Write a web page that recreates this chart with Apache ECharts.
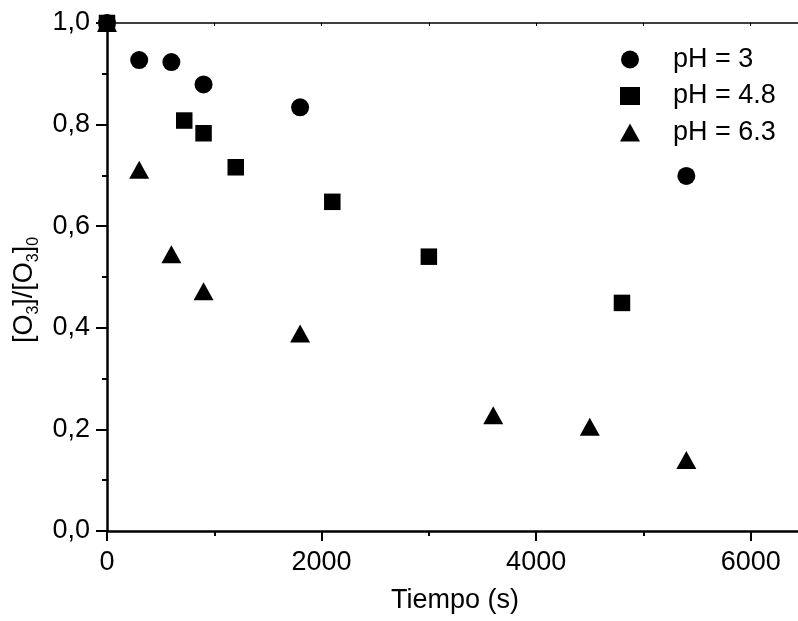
<!DOCTYPE html>
<html>
<head>
<meta charset="utf-8">
<script src="https://cdn.jsdelivr.net/npm/echarts@6/dist/echarts.min.js"></script>
<style>
html,body{margin:0;padding:0;background:#fff;}
#chart{width:798px;height:621px;}
</style>
</head>
<body>
<div id="chart"></div>
<script>
// Data
var seriesNames = ['pH = 3', 'pH = 4.8', 'pH = 6.3'];
var timePH3 = [0, 300, 600, 900, 1800, 5400];
var ratioPH3 = [1.0, 0.927, 0.923, 0.879, 0.834, 0.699];
var timePH48 = [0, 720, 900, 1200, 2100, 3000, 4800];
var ratioPH48 = [1.0, 0.808, 0.783, 0.716, 0.648, 0.540, 0.449];
var timePH63 = [0, 300, 600, 900, 1800, 3600, 4500, 5400];
var ratioPH63 = [1.0, 0.711, 0.545, 0.472, 0.389, 0.228, 0.205, 0.140];
var xTickLabels = ['0', '2000', '4000', '6000'];
var yTickLabels = ['0,0', '0,2', '0,4', '0,6', '0,8', '1,0'];

function pairs(xs, ys) { return xs.map(function (x, i) { return [x, ys[i]]; }); }

var FONT = '"Liberation Sans", Arial, sans-serif';
var FS = 27;
var chart = echarts.init(document.getElementById('chart'));
chart.setOption({
  animation: false,
  backgroundColor: '#fff',
  textStyle: { fontFamily: FONT, color: '#000' },
  grid: { left: 107, top: 23, bottom: 90, width: 751, containLabel: false, outerBoundsMode: 'none' },
  legend: {
    orient: 'vertical', left: 620, top: 46, padding: 0,
    itemWidth: 20, itemHeight: 18, itemGap: 9.5, symbolKeepAspect: true,
    textStyle: { fontFamily: FONT, fontSize: FS, color: '#000', padding: [0, 0, 0, 28] },
    data: [
      { name: seriesNames[0], icon: 'circle' },
      { name: seriesNames[1], icon: 'rect' },
      { name: seriesNames[2], icon: 'triangle' }
    ]
  },
  xAxis: [{
    type: 'value', min: 0, max: 7000, interval: 2000, position: 'bottom',
    name: 'Tiempo (s)', nameLocation: 'middle', nameGap: 56,
    nameTextStyle: { fontSize: FS, color: '#000', fontFamily: FONT, padding: [0, 55, 0, 0] },
    axisLine: { show: true, onZero: false, lineStyle: { color: '#000', width: 2.5 } },
    axisTick: { show: true, inside: false, length: 10, lineStyle: { color: '#000', width: 2 } },
    minorTick: { show: true, splitNumber: 2, length: 5, lineStyle: { color: '#000', width: 2 } },
    splitLine: { show: false },
    axisLabel: { fontSize: FS, color: '#000', margin: 18, fontFamily: FONT,
      formatter: function (v) { var i = xTickLabels.indexOf(String(v)); return i >= 0 ? xTickLabels[i] : ''; } }
  }, {
    type: 'value', min: 0, max: 7000, interval: 1000, position: 'top',
    axisLine: { show: true, onZero: false, lineStyle: { color: '#000', width: 1.5 } },
    axisTick: { show: true, inside: true, length: 3, lineStyle: { color: '#000', width: 1 } },
    axisLabel: { show: false }, splitLine: { show: false }
  }],
  yAxis: [{
    type: 'value', min: 0, max: 1, interval: 0.2,
    name: '{m|[O}{s|3}{m|]/[O}{s|3}{m|]}{s|0}',
    nameLocation: 'middle', nameGap: 60, nameRotate: 90,
    nameTextStyle: {
      color: '#000', fontFamily: FONT, padding: [0, 26, 0, 0],
      rich: {
        m: { fontSize: FS, lineHeight: 34, fontFamily: FONT, color: '#000' },
        s: { fontSize: 16, lineHeight: 16, verticalAlign: 'bottom', fontFamily: FONT, color: '#000' }
      }
    },
    axisLine: { show: true, onZero: false, lineStyle: { color: '#000', width: 2.5 } },
    axisTick: { show: true, inside: false, length: 11, lineStyle: { color: '#000', width: 2 } },
    minorTick: { show: true, splitNumber: 2, length: 5, lineStyle: { color: '#000', width: 2 } },
    splitLine: { show: false },
    axisLabel: { fontSize: FS, color: '#000', margin: 17, fontFamily: FONT,
      formatter: function (v) { return yTickLabels[Math.round(v / 0.2)]; } }
  }],
  series: [
    { name: seriesNames[0], type: 'scatter', symbol: 'circle', symbolSize: 18, symbolKeepAspect: true,
      itemStyle: { color: '#000', opacity: 1 }, data: pairs(timePH3, ratioPH3), z: 3 },
    { name: seriesNames[1], type: 'scatter', symbol: 'rect', symbolSize: 16.5, symbolKeepAspect: true,
      itemStyle: { color: '#000', opacity: 1 }, data: pairs(timePH48, ratioPH48), z: 4 },
    { name: seriesNames[2], type: 'scatter', symbol: 'triangle', symbolSize: [20, 18],
      itemStyle: { color: '#000', opacity: 1 }, data: pairs(timePH63, ratioPH63), z: 5 }
  ]
});
</script>
</body>
</html>
